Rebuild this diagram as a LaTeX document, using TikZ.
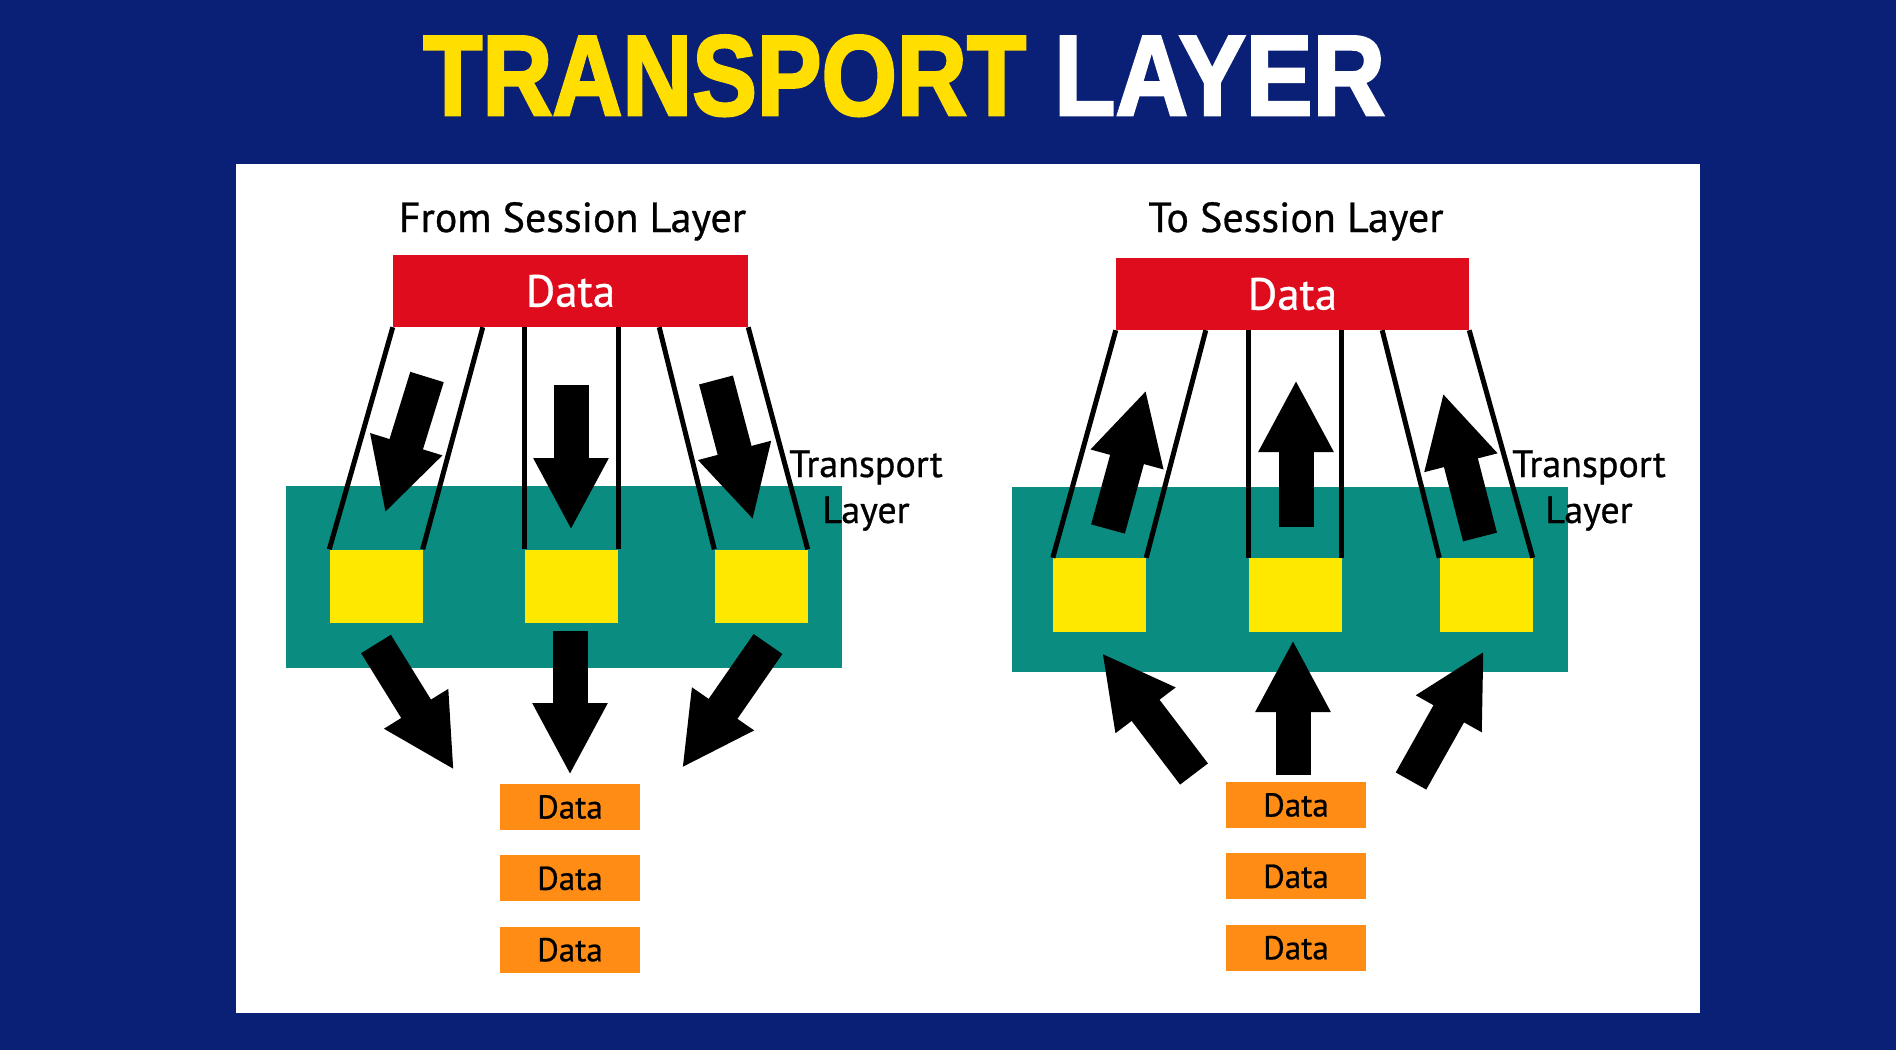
\documentclass[tikz,border=0pt]{standalone}
\usepackage{fontspec}
\setmainfont{PT Sans}[FakeBold=0.7]
\newfontfamily\titlefont{Liberation Sans}[BoldFeatures={FakeBold=2.5}]
\usetikzlibrary{arrows.meta,calc,positioning}

\definecolor{navy}{RGB}{10,31,118}
\definecolor{datared}{RGB}{222,12,28}
\definecolor{layerteal}{RGB}{10,140,128}
\definecolor{segyellow}{RGB}{255,232,0}
\definecolor{segorange}{RGB}{255,140,20}
\definecolor{titleyellow}{RGB}{255,222,0}

\tikzset{
  titleword/.style={inner sep=0pt,font=\titlefont\bfseries\fontsize{114}{114}\selectfont},
  heading/.style={inner sep=0pt,anchor=base,font=\fontsize{42}{42}\selectfont},
  databox/.style={fill=datared,text=white,inner sep=0pt,minimum width=355pt,minimum height=72pt,font=\fontsize{45}{45}\selectfont},
  band/.style={fill=layerteal,inner sep=0pt,minimum width=556pt,minimum height=182pt},
  segment/.style={fill=segyellow,inner sep=0pt,minimum width=93pt,minimum height=73pt},
  piece/.style={fill=segorange,inner sep=0pt,minimum width=140pt,minimum height=46pt,font=\fontsize{33}{33}\selectfont},
  side/.style={inner sep=0pt,anchor=base,align=center,font=\fontsize{38}{46}\selectfont},
  guide/.style={line width=5pt},
  bigarrow/.style={line width=35pt,-{Triangle[length=72pt,width=70pt]}},
}

\begin{document}
\begin{tikzpicture}[x=1pt,y=-1pt]
\useasboundingbox (0,0) rectangle (1896,1050);
\fill[navy] (0,0) rectangle (1896,1050);
\fill[white] (236,164) rectangle (1700,1013);
% title
\node[titleword,text=titleyellow,anchor=base west] (ttl1) at (423,115) {\scalebox{0.85}[1]{TRANSPORT}};
\node[titleword,text=white,anchor=base west] (ttl2) at (1054,115) {\scalebox{0.88}[1]{LAYER}};

% left half: from session layer
\node[band] (t1) at (563.5,577) {};
\node[heading] (h1) at (572.5,232) {From Session Layer};
\node[databox] (d1) at (570.5,291) {Data};
\node[segment] (s1) at (376,586) {};
\node[segment] (s2) at (571.5,586) {};
\node[segment] (s3) at (761,586) {};
\draw[guide] (s1.north west) -- (d1.south west);
\draw[guide] (s1.north east) -- ($(d1.south west)+(90,0)$);
\draw[guide] (s2.north west) -- (s2.north west |- d1.south);
\draw[guide] (s2.north east) -- (s2.north east |- d1.south);
\draw[guide] (s3.north west) -- ($(d1.south east)+(-89,0)$);
\draw[guide] (s3.north east) -- (d1.south east);
\node[side] (l1) at (866,523) {Transport\\Layer};
\node[piece] (o1) at (570,807) {Data};
\node[piece,below=25pt of o1] (o2) {Data};
\node[piece,below=25pt of o2] (o3) {Data};
\draw[bigarrow] (427,377) -- (385,513);
\draw[bigarrow] (571,385) -- (571,530);
\draw[bigarrow] (716,380) -- (753,520);
\draw[bigarrow] (376,644) -- (454,770);
\draw[bigarrow] (570,631) -- (570,775);
\draw[bigarrow] (768,644) -- (682,768);

% right half: to session layer
\node[band,minimum height=185pt] (t2) at (1290,579.5) {};
\node[heading] (h2) at (1296,232) {To Session Layer};
\node[databox,minimum width=353pt] (d2) at (1292.5,294) {Data};
\node[segment,minimum height=74pt] (r1) at (1099.5,595) {};
\node[segment,minimum height=74pt] (r2) at (1295,595) {};
\node[segment,minimum height=74pt] (r3) at (1486,595) {};
\draw[guide] (r1.north west) -- (d2.south west);
\draw[guide] (r1.north east) -- ($(d2.south west)+(90,0)$);
\draw[guide] (r2.north west) -- (r2.north west |- d2.south);
\draw[guide] (r2.north east) -- (r2.north east |- d2.south);
\draw[guide] (r3.north west) -- ($(d2.south east)+(-87,0)$);
\draw[guide] (r3.north east) -- (d2.south east);
\node[side] (l2) at (1589,523) {Transport\\Layer};
\node[piece] (p1) at (1296,805) {Data};
\node[piece,below=25pt of p1] (p2) {Data};
\node[piece,below=25pt of p2] (p3) {Data};
\draw[bigarrow] (1108,529) -- (1146,390);
\draw[bigarrow] (1296,527) -- (1296,380);
\draw[bigarrow] (1480,537) -- (1443,393);
\draw[bigarrow] (1194,774) -- (1102,653);
\draw[bigarrow] (1293,775) -- (1293,640);
\draw[bigarrow] (1411,781) -- (1484,651);
\end{tikzpicture}
\end{document}
